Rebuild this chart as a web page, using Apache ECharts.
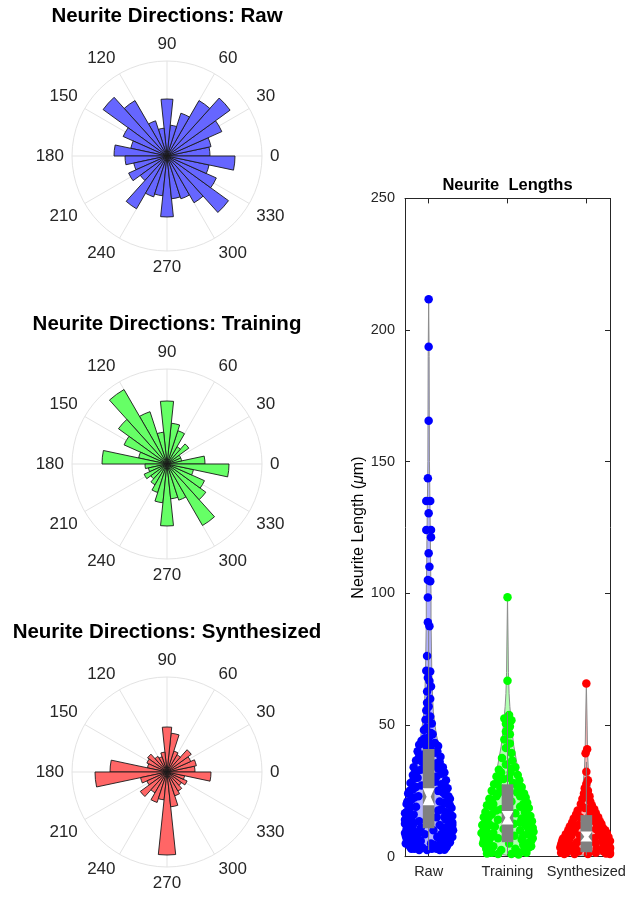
<!DOCTYPE html>
<html><head><meta charset="utf-8">
<script src="https://cdn.jsdelivr.net/npm/echarts@6/dist/echarts.min.js"></script>
<style>html,body{margin:0;padding:0;background:#fff}#c{width:637px;height:898px}</style>
</head><body><div id="c"></div>
<script>
// ---------- DATA ----------
const binEdges = [0,12,24,36,48,60,72,84,96,108,120,132,144,156,168,180,192,204,216,228,240,252,264,276,288,300,312,324,336,348,360];
const rawCounts      = [43,45,60,78,64,45,31,57,28,37,64,79,48,37,53,42,34,42,33,61,43,40,61,43,45,54,76,54,43,68];
const trainingCounts = [38,15,15,27,20,35,41,63,32,55,86,60,47,29,65,22,19,25,20,24,30,39,62,35,38,71,48,41,27,62];
const synthCounts    = [28,30,26,30,20,22,39,45,20,16,18,24,22,20,57,72,27,22,33,24,32,28,83,35,25,22,18,22,18,44];
const rMax = 95;
const angleMin = 0, angleMax = 360, angleStep = 30;
const polarTitles = ['Neurite Directions: Raw','Neurite Directions: Training','Neurite Directions: Synthesized'];

const categories = ['Raw','Training','Synthesized'];
const lengthMin = 0, lengthMax = 250, lengthStep = 50;

// [value, horizontal jitter in category units]
const rawPoints = [[211.7,0],[193.7,0],[165.6,0],[143.7,-0.01],[135.1,-0.03],[135.1,0.02],[130.4,0],[124.1,-0.03],[124.1,0.03],[121.3,0.03],[115.2,0],[110.1,0.01],[105.1,-0.01],[104.6,0.02],[98.4,-0.01],[89,-0.01],[87.5,0.01],[76.2,-0.02],[70.6,-0.03],[70.3,0.02],[68,-0.01],[66.7,0.01],[64.6,0.03],[62.7,-0.02],[60,0.02],[58.5,-0.02],[57,0],[55.5,-0.03],[53.2,0.02],[52,-0.04],[50.6,0.04],[49,-0.03],[48.1,-0.06],[47,0.03],[46.5,0.05],[45.6,0.01],[45,-0.05],[44,-0.09],[43.5,0.0],[43.2,0.08],[42.5,-0.12],[42,0.12],[42,-0.03],
[41,0.02],[40,-0.14],[40,0.11],[39.5,0.08],[39,-0.05],[38,0.15],[38,-0.12],[37,-0.02],[36.5,-0.16],[36,0.14],[36,-0.08],[35.5,0.1],[35,0.05],[34,-0.19],[34,0.18],[33.5,0.12],[33,-0.1],[32.5,-0.15],[32,0.2],[31.5,0.16],[31,-0.2],[30.5,0.1],[30,-0.14],[29.5,-0.19],[29,0.22],[28.5,0.08],[28,-0.23],[27.5,0.16],[27,-0.09],[27,0.2],[26.5,-0.16],[26,0.24],[25.5,-0.2],[25,0.12],[25,-0.24],[24.5,0.18],[24,-0.26],[23.5,0.21],[23,-0.13],[23,0.25],[22.5,-0.18],[22,0.27],[21.5,-0.22],[21,0.14],[21,-0.27],[20.5,0.2],[20,-0.28],[20,0.24],[19.5,0.27],[19,-0.16],[19,-0.24],[18.5,0.29],[18,-0.25],[18,0.16],[17.5,0.12],[17,0.21],[17,-0.28],[16.5,-0.3],[16,-0.19],[16,0.26],[15.5,0.3],[15,0.1],[15,-0.22],[15,0.2],[14.5,-0.26],[14,0.22],[14,-0.3],[13.5,-0.12],[13.5,0.26],[13,0.3],[13,-0.2],[12.5,-0.3],[12,0.14],[12,-0.2],[12,0.3],[11.5,0.25],[11,-0.1],[11,-0.25],[11,0.18],[10.5,-0.28],[10,0.31],[10,0.06],[10,-0.2],[9.5,-0.18],[9.5,0.26],[9,0.2],[9,-0.3],[9,-0.12],[8.5,-0.05],[8.5,0.16],[8,-0.29],[8,0.27],[8,-0.22],[7.5,0.11],[7.5,0.3],[7,-0.2],[7,-0.28],[7,0.25],[6.5,0.21],[6.5,-0.16],[6,-0.1],[6,-0.27],[6,0.15],[5.5,0.27],[5.5,-0.23],[5,0.03],[5,-0.17],[5,0.25],[5,-0.29],[4.5,0.16],[4.5,0.07],[4,-0.24],[4,0.23],[4,-0.15],[4,0.18],[3.5,-0.08],[3.5,0.22],[3,0.1],[3,-0.18],[3,-0.22],[3,0.04],[2.6,0.2],[2.5,-0.02],[2.5,0.14],[2.5,-0.12]];
const trainingPoints = [[98.5,0],[66.8,0],[53.8,0.02],[52.5,-0.04],[51.8,0.05],[50.5,-0.02],[49.4,0.03],[47.5,-0.02],[46.5,0.03],[44.5,-0.04],[43,0.03],[41.3,-0.02],[39.4,0.05],[37.5,-0.07],[36.5,0.06],[35,-0.02],[34,0.1],[33.5,0.05],[33,-0.11],[32,0.04],[32,-0.08],[31,0.13],[30.5,-0.14],[30,0.02],[29.5,-0.05],[29,0.15],[28.5,-0.12],[28,0.07],[27.5,-0.17],[27,0.12],[26.5,0.18],[26,-0.09],[25.5,0.02],[25,-0.2],[24.5,0.12],[24,0.21],[24,-0.12],[23,-0.14],[23,0.16],[22.5,0.23],[22,-0.23],[21.5,-0.2],[21,0.05],[20.5,0.25],[20,-0.18],[20,0.2],[19.5,-0.26],[19,0.16],[19,-0.2],[18.5,0.27],[18,-0.08],[18,0.24],[17.5,-0.14],[17,-0.28],[17,0.22],[16.5,0.1],[16,-0.2],[16,0.25],[15.5,0.29],[15,-0.3],[15,-0.24],[14.5,0.18],[14,-0.12],[14,0.26],[13.5,0.31],[13,-0.25],[13,0.16],[12.5,0.08],[12,-0.32],[12,0.23],[12,-0.22],[11.5,-0.16],[11,0.32],[11,-0.3],[11,0.26],[10.5,-0.05],[10,-0.27],[10,0.16],[10,0.28],[9.5,0.33],[9,-0.33],[9,-0.18],[9,0.3],[8.5,0.25],[8,0.09],[8,-0.26],[8,0.2],[7.5,-0.3],[7,0.32],[7,-0.12],[7,-0.22],[6.5,0.18],[6,-0.24],[6,0.3],[6,-0.3],[5.5,0.28],[5,-0.31],[5,0.02],[5,0.24],[4.5,0.2],[4,-0.18],[4,0.3],[4,-0.26],[3.5,0.27],[3,-0.27],[3,0.1],[3,0.24],[2.5,-0.08],[2.5,-0.22],[2,0.2],[2,0.12],[1.5,-0.2],[1.5,0.24],[1.2,-0.26],[1,0.05],[1,-0.12],[0.8,0.14]];
const synthPoints = [[65.8,0],[40.8,0.01],[39.3,-0.01],[32.3,0],[29,0.02],[27.6,0],[26,-0.02],[25,0.02],[24,-0.03],[23,0.04],[22,-0.05],[21,0.05],[20,-0.07],[19.5,0.07],[18.5,-0.02],[18,0.1],[17.5,-0.11],[17,0.05],[16.5,0.12],[16,-0.13],[15.5,0.04],[15,0.15],[15,-0.08],[14.5,-0.16],[14,0.08],[13.5,0.17],[13,-0.18],[13,0.12],[12.5,0.19],[12,-0.1],[12,0.14],[11.5,-0.21],[11,0.21],[11,-0.14],[10.5,0.12],[10,-0.23],[10,0.24],[10,0.02],[9.5,-0.15],[9,0.26],[9,-0.2],[9,0.16],[8.5,-0.26],[8,0.18],[8,-0.19],[8,-0.08],[7.5,0.28],[7.5,0.22],[7,-0.29],[7,0.1],[6.5,-0.22],[6.5,-0.3],[6,0.3],[6,0.2],[6,-0.05],[5.5,-0.31],[5.5,-0.12],[5,0.32],[5,0.12],[5,-0.22],[4.5,-0.32],[4.5,-0.22],[4.5,0.25],[4,0.33],[4,0.22],[4,-0.26],[3.5,-0.33],[3.5,-0.14],[3.5,0.3],[3,0.3],[3,0.13],[3,-0.28],[2.5,-0.3],[2.5,-0.2],[2.5,0.22],[2.5,0.32],[2,0.32],[2,-0.1],[2,0.22],[2,-0.3],[1.5,-0.25],[1.5,0.12],[1.5,-0.32],[1.5,0.3],[1.2,0.25],[1,-0.15],[1,0.02],[1,0.3],[1,-0.28]];

// violin outline: [value, half width in category units]
const rawViolin = [[2,0],[2.5,0.18],[4,0.25],[7,0.28],[10,0.3],[14,0.31],[18,0.3],[22,0.28],[26,0.25],[30,0.22],[34,0.19],[38,0.16],[42,0.13],[46,0.1],[50,0.08],[55,0.06],[60,0.05],[70,0.04],[80,0.035],[90,0.03],[100,0.03],[110,0.025],[120,0.022],[130,0.018],[140,0.014],[150,0.01],[170,0.008],[190,0.006],[211.7,0]];
const trainingViolin = [[0.5,0],[1,0.12],[3,0.25],[6,0.31],[9,0.33],[13,0.31],[17,0.27],[22,0.22],[27,0.18],[32,0.14],[37,0.11],[42,0.08],[47,0.06],[52,0.045],[57,0.03],[62,0.02],[70,0.012],[80,0.008],[98.5,0]];
const synthViolin = [[0.5,0],[1,0.2],[3,0.31],[5,0.33],[8,0.3],[11,0.24],[14,0.18],[17,0.13],[20,0.09],[24,0.06],[28,0.04],[33,0.025],[40,0.015],[50,0.01],[65.8,0]];

// box stats: [category, whiskerLow, q1, notchLow, median, notchHigh, q3, whiskerHigh]
const boxStats = [
  [1, 2.5, 10.8, 19.5, 22.8, 26.0, 40.9, 86],
  [2, 1.0, 5.5, 12.2, 14.8, 17.4, 27.5, 55],
  [3, 0.5, 1.7, 5.8, 7.6, 9.6, 15.8, 36]
];

// ---------- CHART ----------
const chart = echarts.init(document.getElementById('c'), null, {renderer:'canvas'});
const FONT = 'Liberation Sans, Arial, Helvetica, sans-serif';
const TXT = '#262626';
const polarCenters = [[167,156],[167,464],[167,772]];
const roseFills = ['#6666ff','#66ff66','#ff6666'];
const allCounts = [rawCounts, trainingCounts, synthCounts];

const polar = polarCenters.map(c => ({center: c, radius: 95}));
const angleAxis = polarCenters.map((c,i) => ({
  polarIndex: i, type: 'value', min: angleMin, max: angleMax, interval: angleStep,
  startAngle: 0, clockwise: false,
  axisLine: {show: true, lineStyle: {color: '#e3e3e3', width: 1}},
  axisTick: {show: false},
  splitLine: {show: true, lineStyle: {color: '#e3e3e3', width: 1}},
  axisLabel: {show: true, margin: 8, fontSize: 17, color: TXT, fontFamily: FONT,
    formatter: v => (v === angleMax ? '' : String(v))}
}));
const radiusAxis = polarCenters.map((c,i) => ({
  polarIndex: i, type: 'value', min: 0, max: rMax,
  axisLine: {show: false}, axisTick: {show: false}, axisLabel: {show: false},
  splitLine: {show: false}
}));

function roseSeries(i) {
  return {
    type: 'custom', coordinateSystem: 'polar', polarIndex: i, z: 2,
    encode: {radius: 0, angle: 1},
    data: allCounts[i].map((v, k) => [v, binEdges[k], binEdges[k+1]]),
    renderItem(params, api) {
      const r = api.value(0), a0 = api.value(1), a1 = api.value(2);
      const c = api.coord([0, a0]);
      const p = api.coord([r, a0]);
      const rr = Math.hypot(p[0]-c[0], p[1]-c[1]);
      return {
        type: 'sector',
        shape: {cx: c[0], cy: c[1], r0: 0, r: rr,
                startAngle: -a1*Math.PI/180, endAngle: -a0*Math.PI/180, clockwise: true},
        style: {fill: roseFills[i], stroke: '#1a1a1a', lineWidth: 0.9}
      };
    }
  };
}

const violinFills = ['rgba(0,0,255,0.3)','rgba(0,255,0,0.3)','rgba(255,0,0,0.3)'];
const pointColors = ['#0000ff','#00ff00','#ff0000'];
const violins = [rawViolin, trainingViolin, synthViolin];
const pointsAll = [rawPoints, trainingPoints, synthPoints];

function violinSeries(i) {
  return {
    type: 'custom', xAxisIndex: 0, yAxisIndex: 0, z: 1, silent: true,
    data: [[i+1, 0]],
    renderItem(params, api) {
      const cat = api.value(0);
      const prof = violins[i];
      const right = prof.map(([v,h]) => api.coord([cat + h, v]));
      const left = prof.slice().reverse().map(([v,h]) => api.coord([cat - h, v]));
      return {type: 'polygon', shape: {points: right.concat(left)},
        style: {fill: violinFills[i], stroke: '#8c8c8c', lineWidth: 1}};
    }
  };
}
function scatterSeries(i) {
  return {
    type: 'scatter', xAxisIndex: 0, yAxisIndex: 0, z: 2, silent: true,
    symbol: 'circle', symbolSize: 8.5,
    itemStyle: {color: pointColors[i], opacity: 1},
    data: pointsAll[i].map(([v, j]) => [i + 1 + j, v])
  };
}
const boxSeries = {
  type: 'custom', xAxisIndex: 0, yAxisIndex: 0, z: 3, silent: true,
  data: boxStats,
  renderItem(params, api) {
    const x = api.value(0);
    const hw = 0.074;
    const wl = api.coord([x, api.value(1)]), q1 = api.value(2), nl = api.value(3),
          md = api.value(4), nh = api.value(5), q3 = api.value(6), wh = api.coord([x, api.value(7)]);
    const tl = api.coord([x - hw, q3]), br = api.coord([x + hw, q1]);
    const pts = [
      api.coord([x - hw, nh]), api.coord([x + hw, nh]), api.coord([x + hw*0.35, md]),
      api.coord([x + hw, nl]), api.coord([x - hw, nl]), api.coord([x - hw*0.35, md])
    ];
    return {type: 'group', children: [
      {type: 'line', shape: {x1: wl[0], y1: wl[1], x2: wh[0], y2: wh[1]}, style: {stroke: '#808080', lineWidth: 1}},
      {type: 'rect', shape: {x: tl[0], y: tl[1], width: br[0]-tl[0], height: br[1]-tl[1]}, style: {fill: '#808080'}},
      {type: 'polygon', shape: {points: pts}, style: {fill: '#ffffff'}}
    ]};
  }
};

const catTicks = categories.map((c,i) => i + 1);
const option = {
  animation: false,
  backgroundColor: '#ffffff',
  textStyle: {fontFamily: FONT},
  polar, angleAxis, radiusAxis,
  grid: [{left: 405, top: 198.4, width: 205, height: 658.3, containLabel: false}],
  xAxis: [
    {gridIndex: 0, type: 'value', min: 0.7, max: 3.3, position: 'bottom',
     axisLine: {show: true, onZero: false, lineStyle: {color: TXT, width: 1}},
     axisTick: {show: true, inside: true, length: 5, customValues: catTicks, lineStyle: {color: TXT}},
     axisLabel: {show: true, customValues: catTicks, margin: 8, fontSize: 14.5, color: TXT, fontFamily: FONT,
                 formatter: v => categories[Math.round(v) - 1]},
     splitLine: {show: false}},
    {gridIndex: 0, type: 'value', min: 0.7, max: 3.3, position: 'top',
     axisLine: {show: true, onZero: false, lineStyle: {color: TXT, width: 1}},
     axisTick: {show: true, inside: true, length: 5, customValues: catTicks, lineStyle: {color: TXT}},
     axisLabel: {show: false}, splitLine: {show: false}}
  ],
  yAxis: [
    {gridIndex: 0, type: 'value', min: lengthMin, max: lengthMax, interval: lengthStep, position: 'left',
     axisLine: {show: true, onZero: false, lineStyle: {color: TXT, width: 1}},
     axisTick: {show: true, inside: true, length: 5, lineStyle: {color: TXT}},
     axisLabel: {show: true, margin: 10, fontSize: 14.5, color: TXT, fontFamily: FONT},
     splitLine: {show: false},
     name: '{a|Neurite Length (}{b|μ}{a|m)}', nameLocation: 'middle', nameGap: 30,
     nameTextStyle: {rich: {a: {fontSize: 16, color: '#000', fontFamily: FONT}, b: {fontSize: 16, color: '#000', fontFamily: FONT, fontStyle: 'italic'}}}},
    {gridIndex: 0, type: 'value', min: lengthMin, max: lengthMax, interval: lengthStep, position: 'right',
     axisLine: {show: true, onZero: false, lineStyle: {color: TXT, width: 1}},
     axisTick: {show: true, inside: true, length: 5, lineStyle: {color: TXT}},
     axisLabel: {show: false}, splitLine: {show: false}}
  ],
  graphic: [
    ...polarTitles.map((t, i) => ({type: 'text', x: polarCenters[i][0], y: polarCenters[i][1] - 140,
      style: {text: t, font: 'bold 20.5px ' + FONT, fill: '#000', textAlign: 'center', textVerticalAlign: 'middle'}})),
    {type: 'text', x: 507.5, y: 185, style: {text: 'Neurite  Lengths', font: 'bold 16.5px ' + FONT, fill: '#000', textAlign: 'center', textVerticalAlign: 'middle'}}
  ],
  series: [
    roseSeries(0), roseSeries(1), roseSeries(2),
    violinSeries(0), violinSeries(1), violinSeries(2),
    scatterSeries(0), scatterSeries(1), scatterSeries(2),
    boxSeries
  ]
};
chart.setOption(option);
</script>
</body></html>
